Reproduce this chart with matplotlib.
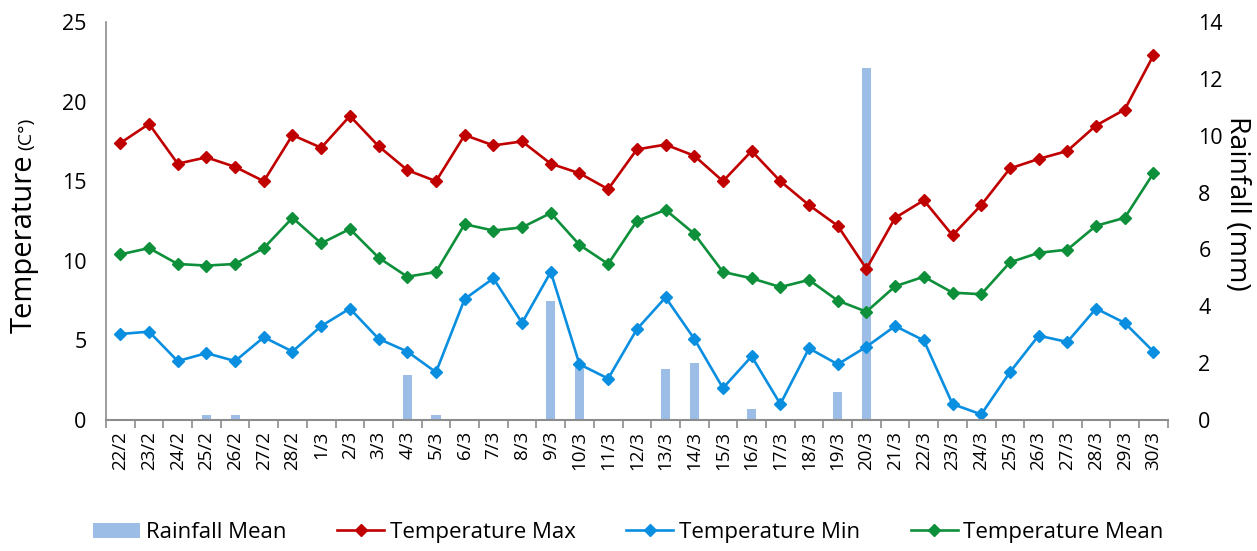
import matplotlib
matplotlib.use("Agg")
import matplotlib.pyplot as plt
import numpy as np

plt.rcParams['font.family'] = ['Open Sans', 'DejaVu Sans']

# datas (22/2 a 30/3)
dias = ["22/2", "23/2", "24/2", "25/2", "26/2", "27/2", "28/2"] + [f"{d}/3" for d in range(1, 31)]

temp_max = [17.4, 18.6, 16.1, 16.5, 15.9, 15.0, 17.9, 17.1, 19.1, 17.2, 15.7,
            15.0, 17.9, 17.25, 17.5, 16.1, 15.5, 14.5, 17.0, 17.3, 16.6, 15.0,
            16.9, 15.0, 13.5, 12.2, 9.5, 12.7, 13.8, 11.6, 13.5, 15.8, 16.4,
            16.9, 18.5, 19.5, 22.9]
temp_min = [5.4, 5.55, 3.7, 4.2, 3.7, 5.2, 4.3, 5.9, 7.0, 5.1, 4.3,
            3.0, 7.6, 8.9, 6.1, 9.3, 3.5, 2.6, 5.7, 7.7, 5.1, 2.0,
            4.0, 1.0, 4.5, 3.5, 4.6, 5.9, 5.0, 1.0, 0.35, 3.0, 5.3,
            4.9, 7.0, 6.1, 4.3]
temp_media = [10.4, 10.8, 9.8, 9.7, 9.8, 10.8, 12.7, 11.1, 12.0, 10.2, 9.0,
              9.3, 12.3, 11.9, 12.1, 13.0, 11.0, 9.8, 12.5, 13.2, 11.7, 9.3,
              8.9, 8.35, 8.8, 7.5, 6.8, 8.4, 9.0, 8.0, 7.9, 9.9, 10.5,
              10.7, 12.2, 12.7, 15.5]
chuva = [0, 0, 0, 0.18, 0.18, 0, 0, 0, 0, 0, 1.58,
         0.18, 0, 0, 0, 4.2, 1.95, 0, 0, 1.78, 2.0, 0,
         0.38, 0, 0, 0.98, 12.4, 0, 0, 0, 0, 0, 0,
         0, 0, 0, 0]

x = np.arange(len(dias))

fig = plt.figure(figsize=(12.57, 5.51), dpi=100)
ax = fig.add_axes([0.0843, 0.2378, 0.8447, 0.7222])
ax2 = ax.twinx()

# chuva no eixo da direita, atras das linhas
ax2.set_zorder(0)
ax.set_zorder(1)
ax.patch.set_visible(False)

barras = ax2.bar(x, chuva, width=0.32, color="#9bbde6", label="Rainfall Mean")

l1, = ax.plot(x, temp_max, color="#c00000", marker="D", markersize=6, linewidth=1.9, label="Temperature Max")
l2, = ax.plot(x, temp_min, color="#0a8fe0", marker="D", markersize=6, linewidth=1.9, label="Temperature Min")
l3, = ax.plot(x, temp_media, color="#0e8f3a", marker="D", markersize=6, linewidth=1.9, label="Temperature Mean")

ax.set_xlim(-0.5, len(dias) - 0.5)
ax.set_ylim(0, 25)
ax2.set_ylim(0, 14)
ax.set_yticks([0, 5, 10, 15, 20, 25])
ax2.set_yticks([0, 2, 4, 6, 8, 10, 12, 14])

ax.set_xticks(x)
ax.set_xticklabels(dias, rotation=90, fontsize=13.5)
ax.set_xticks(np.arange(len(dias) + 1) - 0.5, minor=True)
ax.tick_params(axis="x", which="major", length=0, pad=8)
ax.tick_params(axis="x", which="minor", length=6, color="#8c8c8c", width=1.2)
ax.tick_params(axis="y", length=0, labelsize=15.5, pad=14)
ax2.tick_params(axis="y", length=0, labelsize=15.5, pad=22)

for s in ["top", "right"]:
    ax.spines[s].set_visible(False)
for s in ["top", "right", "left", "bottom"]:
    ax2.spines[s].set_visible(False)
ax.spines["left"].set_color("#8c8c8c")
ax.spines["bottom"].set_color("#8c8c8c")
ax.spines["left"].set_linewidth(1.2)
ax.spines["bottom"].set_linewidth(1.5)

fig.text(0.019, 0.395, "Temperature", rotation=90, fontsize=21, ha="center", va="bottom")
fig.text(0.021, 0.728, "(C°)", rotation=90, fontsize=14, ha="center", va="bottom")
fig.text(0.984, 0.63, "Rainfall (mm)", rotation=270, fontsize=20.5, ha="center", va="center")

fig.legend([barras, l1, l2, l3],
           ["Rainfall Mean", "Temperature Max", "Temperature Min", "Temperature Mean"],
           loc="lower center", bbox_to_anchor=(0.5, -0.022), ncol=4, frameon=False,
           fontsize=16, handlelength=2.1, columnspacing=2.3, handletextpad=0.25)

fig.savefig("out.png", dpi=100)
